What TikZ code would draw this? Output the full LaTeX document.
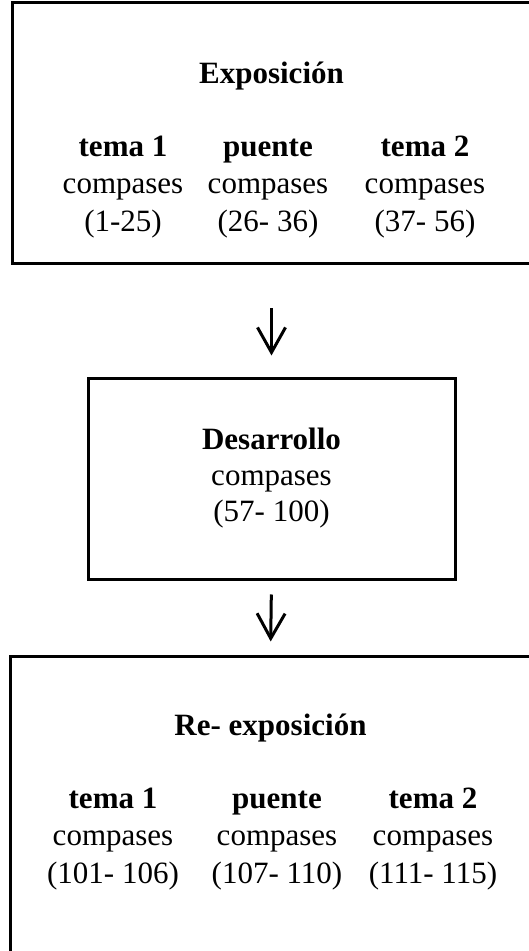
\documentclass[tikz,border=0pt]{standalone}
\usepackage{fontspec}
\setmainfont{Liberation Serif}
\usetikzlibrary{positioning, arrows.meta}

\tikzset{
	section/.style={rectangle, draw=black, line width=3pt, inner sep=0pt},
	heading/.style={font=\fontsize{31}{37.5}\selectfont\bfseries, anchor=base, inner sep=0pt},
	bars/.style={font=\fontsize{31}{37.5}\selectfont, align=center, anchor=base, inner sep=0pt},
}

\begin{document}
\begin{tikzpicture}[x=1pt, y=1pt]
			\tikzstyle{flow}=[line width=3pt, -{Straight Barb[length=25pt, width=28pt]}]
			\useasboundingbox (0,0) rectangle (529,951);
			\clip (0,0) rectangle (529,951);
			
			\node[section, minimum width=519pt, minimum height=261pt] (expo) at (271.5,817.5) {};
			\node[section, minimum width=367pt, minimum height=201pt] (dev) at (271.5,471.5) {};
			\node[section, minimum width=521pt, minimum height=303pt] (reexpo) at (270.5,142.5) {};
			
			% text sits on the baseline of its last line
			\node[heading] (expotitle) at ([yshift=-82pt]expo.north) {Exposición};
			\node[bars] (expoA) at ([xshift=-148.5pt,yshift=-230pt]expo.north) {\textbf{tema 1}\\compases\\(1-25)};
			\node[bars] (expoB) at ([xshift=-3.5pt,yshift=-230pt]expo.north) {\textbf{puente}\\compases\\(26- 36)};
			\node[bars] (expoC) at ([xshift=153.5pt,yshift=-230pt]expo.north) {\textbf{tema 2}\\compases\\(37- 56)};
			
			\node[bars, font=\fontsize{31}{36}\selectfont] (devtext) at ([yshift=-144pt]dev.north) {\textbf{Desarrollo}\\compases\\(57- 100)};
			
			\node[heading] (reexpotitle) at ([yshift=-80pt]reexpo.north) {Re- exposición};
			\node[bars] (reexpoA) at ([xshift=-157.5pt,yshift=-228pt]reexpo.north) {\textbf{tema 1}\\compases\\(101- 106)};
			\node[bars] (reexpoB) at ([xshift=6.5pt,yshift=-228pt]reexpo.north) {\textbf{puente}\\compases\\(107- 110)};
			\node[bars] (reexpoC) at ([xshift=162.5pt,yshift=-228pt]reexpo.north) {\textbf{tema 2}\\compases\\(111- 115)};
			
			\draw[flow, shorten <=43pt, shorten >=22pt] (expo.south) -- (dev.north);
			\draw[flow, shorten <=13pt, shorten >=14pt] (dev.south) -- (reexpo.north);
		\end{tikzpicture}
\end{document}
